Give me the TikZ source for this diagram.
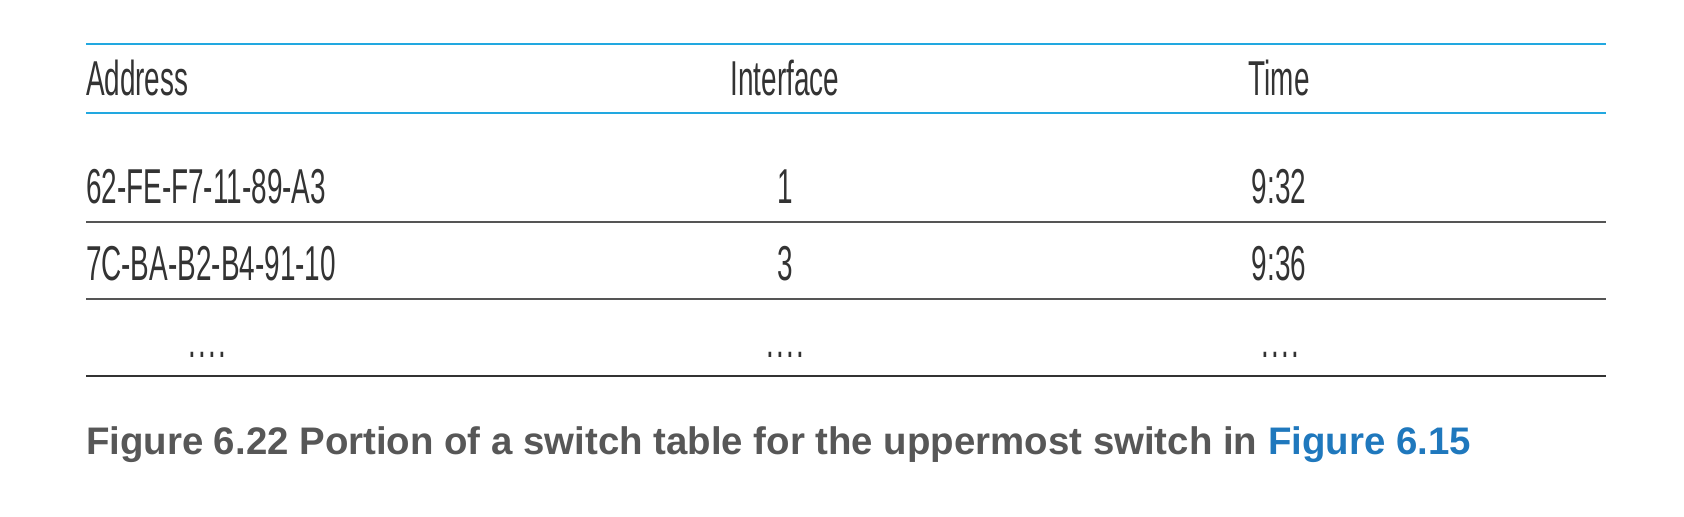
\documentclass[tikz,border=0pt]{standalone}
\usepackage{fontspec}
\setmainfont{Liberation Sans}
\newfontfamily\tabfont[FakeStretch=0.57]{Liberation Sans}
\usetikzlibrary{positioning}
\definecolor{rulecyan}{HTML}{22A8E0}
\definecolor{rulegray}{HTML}{555555}
\definecolor{tabtext}{HTML}{333333}
\definecolor{capgray}{HTML}{575757}
\definecolor{capblue}{HTML}{1F78BD}
\newcommand{\celldots}{.\kern1.1pt.\kern1.1pt.\kern1.1pt.}
\tikzset{
	every node/.style={inner sep=0pt,outer sep=0pt},
	cell/.style={anchor=base,font=\tabfont\fontsize{24.5}{28}\selectfont,text=tabtext},
	cellleft/.style={cell,anchor=base west},
	bluerule/.style={draw=rulecyan,line width=1.3pt},
	grayrule/.style={draw=rulegray,line width=1.1pt},
	caption/.style={anchor=base west,font=\bfseries\fontsize{19.2}{22}\selectfont,text=capgray},
}

\begin{document}
\begin{tikzpicture}[x=0.5pt,y=-0.5pt]
	\useasboundingbox (0,0) rectangle (1684,516);
	
	%header rules.....................
	\draw [bluerule] (86,44) to (1606,44);
	\draw [bluerule] (86,113) to (1606,113);
	
	%header......................
	\node [cellleft] (addr) at (86,95) {Address};
	\node [cell] (intf) at (785,95) {Interface};
	\node [cell] (time) at (1279,95) {Time};
	
	% first row...................
	\node [cellleft] (addr1) at (86,203) {62-FE-F7-11-89-A3};
	\node [cell] (intf1) at (785,203) {1};
	\node [cell] (time1) at (1279,203) {9:32};
	\draw [grayrule] (86,222) to (1606,222);
	
	% second row...................
	\node [cellleft] (addr2) at (86,280) {7C-BA-B2-B4-91-10};
	\node [cell] (intf2) at (785,280) {3};
	\node [cell] (time2) at (1279,280) {9:36};
	\draw [grayrule] (86,299) to (1606,299);
	
	% dots row....................
	\node [cell] (addr3) at (207,357) {\celldots};
	\node [cell] (intf3) at (785,357) {\celldots};
	\node [cell] (time3) at (1280,357) {\celldots};
	\draw [grayrule,draw=tabtext] (86,376) to (1606,376);
	
	% caption....................
	\node [caption] (cap) at (86,454) {Figure 6.22 Portion of a switch table for the uppermost switch in \textcolor{capblue}{Figure 6.15}};
	
\end{tikzpicture}
\end{document}
